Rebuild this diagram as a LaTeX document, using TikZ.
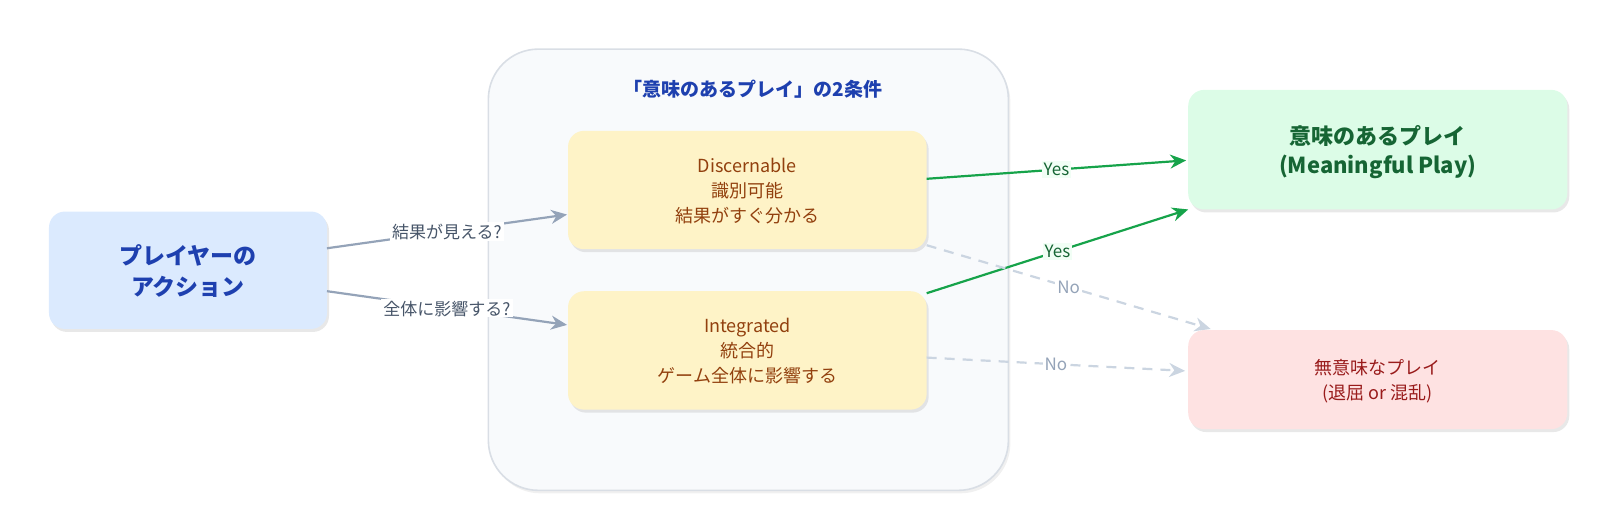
\documentclass[tikz,border=0pt]{standalone}
\usepackage{fontspec}
\setmainfont{Noto Sans CJK JP}
\usetikzlibrary{arrows.meta,shadows}
\definecolor{bluefill}{HTML}{DBEAFE}
\definecolor{bluetext}{HTML}{1E40AF}
\definecolor{contfill}{HTML}{F8FAFC}
\definecolor{contdraw}{HTML}{D9DEE5}
\definecolor{yelfill}{HTML}{FEF3C7}
\definecolor{browntext}{HTML}{92400E}
\definecolor{grnfill}{HTML}{DCFCE7}
\definecolor{grntext}{HTML}{166534}
\definecolor{redfill}{HTML}{FEE2E2}
\definecolor{redtext}{HTML}{991B1B}
\definecolor{arrgray}{HTML}{94A3B8}
\definecolor{nogray}{HTML}{CBD5E1}
\definecolor{yesgreen}{HTML}{16A34A}
\definecolor{lbl}{HTML}{475569}
\begin{document}
\begin{tikzpicture}[x=0.5108pt,y=-0.5108pt,
  box/.style={rounded corners=8pt,align=center,inner sep=0pt,drop shadow={shadow xshift=1pt,shadow yshift=-1.5pt,opacity=0.18}},
  conn/.style={line width=1.1pt,-{Stealth[length=8pt,width=7pt]}},
  lab/.style={fill=white,inner sep=1pt,font=\fontsize{8.5}{9}\selectfont},
  every node/.style={text depth=0pt}]
\node[draw=contdraw,line width=0.8pt,fill=contfill,rounded corners=25pt,minimum width=260pt,minimum height=220.6pt,drop shadow={shadow xshift=1pt,shadow yshift=-1.5pt,opacity=0.12}] (cont) at (732.5,264) {};
\node[text=bluetext,font=\fontsize{9.5}{10}\bfseries\selectfont] (title) at (737,86) {「意味のあるプレイ」の2条件};
\node[box,fill=bluefill,text=bluetext,minimum width=139pt,minimum height=58.7pt,font=\fontsize{11.5}{15.5}\bfseries\selectfont] (act) at (184,264.5) {プレイヤーの\\アクション};
\node[box,fill=yelfill,text=browntext,minimum width=179.3pt,minimum height=59.2pt,font=\fontsize{9}{12.5}\selectfont] (disc) at (731.5,186) {Discernable\\識別可能\\結果がすぐ分かる};
\node[box,fill=yelfill,text=browntext,minimum width=179.3pt,minimum height=59.2pt,font=\fontsize{9}{12.5}\selectfont] (integ) at (731.5,343) {Integrated\\統合的\\ゲーム全体に影響する};
\node[box,fill=grnfill,text=grntext,minimum width=189.5pt,minimum height=59.8pt,font=\fontsize{11}{14.5}\bfseries\selectfont] (mean) at (1348.5,146.5) {意味のあるプレイ\\(Meaningful Play)};
\node[box,fill=redfill,text=redtext,minimum width=189.5pt,minimum height=49.5pt,font=\fontsize{9}{12.5}\selectfont] (meanless) at (1348.5,371.5) {無意味なプレイ\\(退屈 or 混乱)};
\coordinate (a1) at (320,243); \coordinate (d1) at (555,210);
\coordinate (a2) at (320,285); \coordinate (i1) at (555,318);
\draw[conn,arrgray] (a1) -- node[lab,text=lbl]{結果が見える?} (d1);
\draw[conn,arrgray] (a2) -- node[lab,text=lbl]{全体に影響する?} (i1);
\coordinate (d2) at (907,175); \coordinate (m1) at (1161,157);
\coordinate (i2) at (907,287); \coordinate (m2) at (1163,205);
\draw[conn,yesgreen] (d2) -- node[lab,fill=grnfill!40!white,text=grntext,pos=0.5]{Yes} (m1);
\draw[conn,yesgreen] (i2) -- node[lab,fill=grnfill!40!white,text=grntext,pos=0.5]{Yes} (m2);
\coordinate (d3) at (907,240); \coordinate (n1) at (1185,322);
\coordinate (i3) at (907,350); \coordinate (n2) at (1160,363);
\draw[conn,nogray,dashed,dash pattern=on 5pt off 4pt] (d3) -- node[lab,fill=white,text=arrgray,pos=0.5]{No} (n1);
\draw[conn,nogray,dashed,dash pattern=on 5pt off 4pt] (i3) -- node[lab,fill=white,text=arrgray,pos=0.5]{No} (n2);
\pgfresetboundingbox
\useasboundingbox (0,0) rectangle (1568,516);
\end{tikzpicture}
\end{document}
